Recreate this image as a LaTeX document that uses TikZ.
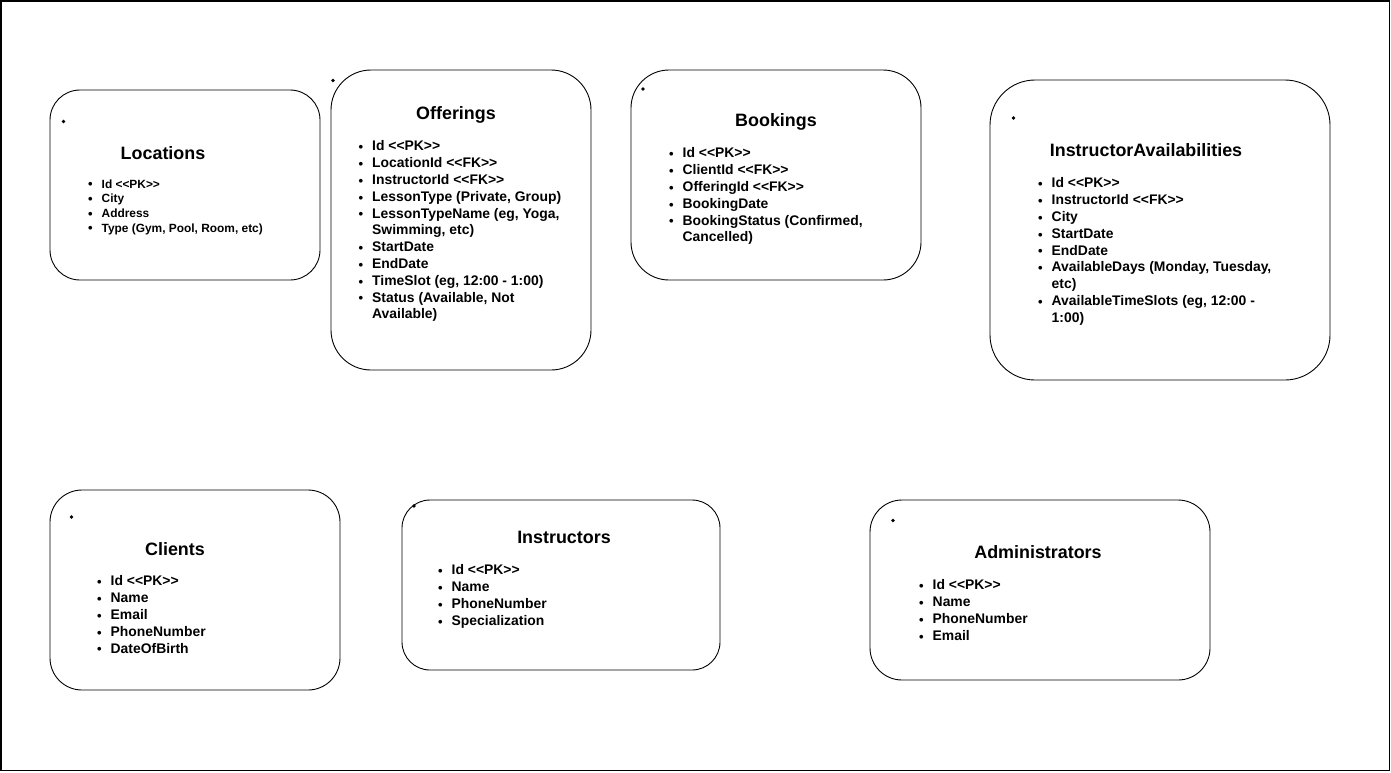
\documentclass[tikz,border=0pt]{standalone}
\usepackage{fontspec}
\setmainfont{Liberation Sans}
\usetikzlibrary{positioning}

\newcommand{\pk}{<{}<PK>{}>}
\newcommand{\fk}{<{}<FK>{}>}
\newcommand{\bul}{\raisebox{-0.8pt}{\fontsize{13}{10}\selectfont\textbullet}}
\newcommand{\fld}[1]{\makebox[13.5pt][l]{\bul}#1}
\newcommand{\cont}[1]{\hspace*{13.5pt}#1}
\newcommand{\fieldlist}[1]{\begin{tabular}[t]{@{}l@{}}#1\end{tabular}}

\begin{document}
\begin{tikzpicture}[
  x=1pt, y=-1pt,
  tbl/.style={draw, line width=0.9, inner sep=0},
  ttl/.style={anchor=base, inner sep=0, font=\fontsize{17.9}{20}\selectfont\bfseries},
  fields/.style={anchor=base west, inner sep=0, font=\fontsize{13.9}{16.8}\selectfont\bfseries},
  smallfields/.style={fields, font=\fontsize{11.9}{14.7}\selectfont\bfseries},
  marker/.style={fill, circle, inner sep=0, minimum size=3.8},
]
\useasboundingbox (0,0) rectangle (1391,772);
\draw[line width=1.5] (0.75,0.75) rectangle (1389.5,770.5);

% tables, top row
\node[tbl, rounded corners=30, minimum width=270, minimum height=190] (locations) at (185,185) {};
\node[tbl, rounded corners=40, minimum width=260, minimum height=300] (offerings) at (461,220) {};
\node[tbl, rounded corners=38, minimum width=290, minimum height=210] (bookings) at (776,175) {};
\node[tbl, rounded corners=45, minimum width=340, minimum height=300] (availabilities) at (1160,230) {};

% tables, bottom row
\node[tbl, rounded corners=32, minimum width=290, minimum height=200] (clients) at (195,590) {};
\node[tbl, rounded corners=28, minimum width=318, minimum height=170] (instructors) at (561,585) {};
\node[tbl, rounded corners=32, minimum width=340, minimum height=180] (administrators) at (1040,590) {};

% stray dots
\node[marker] (locDot) at (63.5,121.5) {};
\node[marker] (offDot) at (333,80.5) {};
\node[marker] (bookDot) at (643,89) {};
\node[marker] (availDot) at (1013.5,118) {};
\node[marker] (cliDot) at (71.5,517) {};
\node[marker] (insDot) at (414,506) {};
\node[marker] (admDot) at (893,520.5) {};

% titles
\node[ttl] (locTitle) at (163,159) {Locations};
\node[ttl] (offTitle) at (456,119) {Offerings};
\node[ttl] (bookTitle) at (776,126) {Bookings};
\node[ttl] (availTitle) at (1146,156) {InstructorAvailabilities};
\node[ttl] (cliTitle) at (175,555) {Clients};
\node[ttl] (insTitle) at (564,543) {Instructors};
\node[ttl] (admTitle) at (1038,558) {Administrators};

% fields
\node[smallfields] (locFields) at (88,188) {\fieldlist{
  \fld{Id \pk}\\ \fld{City}\\ \fld{Address}\\ \fld{Type (Gym, Pool, Room, etc)}}};
\node[fields] (offFields) at (358.5,150.8) {\fieldlist{
  \fld{Id \pk}\\ \fld{LocationId \fk}\\ \fld{InstructorId \fk}\\
  \fld{LessonType (Private, Group)}\\ \fld{LessonTypeName (eg, Yoga,}\\ \cont{Swimming, etc)}\\
  \fld{StartDate}\\ \fld{EndDate}\\ \fld{TimeSlot (eg, 12:00 - 1:00)}\\
  \fld{Status (Available, Not}\\ \cont{Available)}}};
\node[fields] (bookFields) at (669,157.8) {\fieldlist{
  \fld{Id \pk}\\ \fld{ClientId \fk}\\ \fld{OfferingId \fk}\\ \fld{BookingDate}\\
  \fld{BookingStatus (Confirmed,}\\ \cont{Cancelled)}}};
\node[fields] (availFields) at (1038,187.8) {\fieldlist{
  \fld{Id \pk}\\ \fld{InstructorId \fk}\\ \fld{City}\\ \fld{StartDate}\\ \fld{EndDate}\\
  \fld{AvailableDays (Monday, Tuesday,}\\ \cont{etc)}\\
  \fld{AvailableTimeSlots (eg, 12:00 -}\\ \cont{1:00)}}};
\node[fields] (cliFields) at (97,585.8) {\fieldlist{
  \fld{Id \pk}\\ \fld{Name}\\ \fld{Email}\\ \fld{PhoneNumber}\\ \fld{DateOfBirth}}};
\node[fields] (insFields) at (438,574.8) {\fieldlist{
  \fld{Id \pk}\\ \fld{Name}\\ \fld{PhoneNumber}\\ \fld{Specialization}}};
\node[fields] (admFields) at (919,589.8) {\fieldlist{
  \fld{Id \pk}\\ \fld{Name}\\ \fld{PhoneNumber}\\ \fld{Email}}};

\end{tikzpicture}
\end{document}
